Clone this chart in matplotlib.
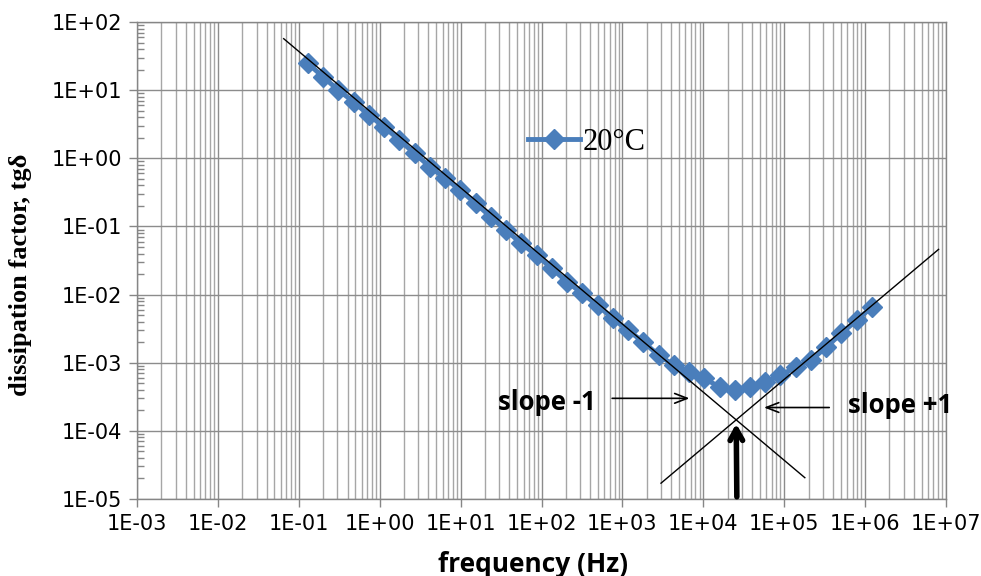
import matplotlib
matplotlib.use("Agg")
import matplotlib.pyplot as plt
from matplotlib.ticker import LogLocator, NullFormatter, FixedLocator

# measured tgδ at 20 °C
freq_hz = [0.129, 0.199, 0.308, 0.475, 0.733, 1.13, 1.75, 2.70, 4.16, 6.42,
           9.91, 15.3, 23.6, 36.4, 56.2, 86.8, 134, 207, 319, 493,
           760, 1170, 1810, 2800, 4320, 6660, 10300, 15900, 24500, 37800,
           58300, 90000, 139000, 215000, 331000, 511000, 789000, 1220000]
tan_delta = [24.8, 15.7, 10.0, 6.76, 4.31, 2.90, 1.85, 1.18, 0.750, 0.510,
             0.341, 0.218, 0.138, 0.0883, 0.0562, 0.0379, 0.0242, 0.0154, 0.0104, 0.00698,
             0.00446, 0.00300, 0.00202, 0.00129, 0.000919, 0.000733, 0.000592, 0.000437, 0.000394, 0.000437,
             0.000517, 0.000656, 0.000859, 0.00109, 0.00169, 0.00271, 0.00421, 0.00659]

# asymptotes: slope -1 and +1 through their crossing point
f_cross, tg_cross = 2.55e4, 1.45e-4
f_low = [0.065, 1.8e5]
f_high = [3.0e3, 8.1e6]
tg_low = [tg_cross * f_cross / f for f in f_low]
tg_high = [tg_cross * f / f_cross for f in f_high]

xticks = [1e-3, 1e-2, 1e-1, 1e0, 1e1, 1e2, 1e3, 1e4, 1e5, 1e6, 1e7]
yticks = [1e-5, 1e-4, 1e-3, 1e-2, 1e-1, 1e0, 1e1, 1e2]


def sci(v):
    m, e = f"{v:.0E}".split("E")
    return f"1E{e[0]}{int(e[1:]):02d}"


fig = plt.figure(figsize=(9.81, 5.76), dpi=100)
ax = fig.add_axes([0.1397, 0.1337, 0.8246, 0.8281])
ax.set_xscale("log")
ax.set_yscale("log")
ax.set_xlim(1e-3, 1e7)
ax.set_ylim(1e-5, 1e2)

ax.xaxis.set_major_locator(FixedLocator(xticks))
ax.yaxis.set_major_locator(FixedLocator(yticks))
ax.xaxis.set_minor_locator(LogLocator(base=10, subs=range(2, 10), numticks=20))
ax.yaxis.set_minor_locator(LogLocator(base=10, subs=range(2, 10), numticks=20))
ax.xaxis.set_minor_formatter(NullFormatter())
ax.yaxis.set_minor_formatter(NullFormatter())
ax.set_xticklabels([sci(v) for v in xticks])
ax.set_yticklabels([sci(v) for v in yticks])

ax.grid(True, which="major", axis="both", color="#8c8c8c", lw=1.0)
ax.grid(True, which="minor", axis="x", color="#a6a6a6", lw=1.0)
ax.set_axisbelow(True)

ax.tick_params(axis="both", which="major", length=6, width=1, color="#868686",
               labelsize=15, pad=5, direction="out")
ax.tick_params(axis="y", which="minor", length=5, width=1, color="#868686",
               direction="in")
ax.tick_params(axis="x", which="minor", length=0)
for lab in ax.get_xticklabels() + ax.get_yticklabels():
    lab.set_family("DejaVu Sans")
for s in ax.spines.values():
    s.set_color("#868686")
    s.set_linewidth(1)

ax.plot(freq_hz, tan_delta, color="#4a7ebb", lw=3.5, marker="D", ms=10.5,
        mec="#4a7ebb", label="20°C", zorder=3)
ax.plot(f_low, tg_low, color="black", lw=1.0, zorder=4)
ax.plot(f_high, tg_high, color="black", lw=1.0, zorder=4)

# arrows pointing at the two asymptotes and their crossing
thin = dict(arrowstyle="->,head_length=0.9,head_width=0.35", color="black", lw=1.2)
ax.annotate("", xy=(7.3e3, 3.0e-4), xytext=(6.9e2, 3.0e-4), arrowprops=thin, zorder=5)
ax.annotate("", xy=(5.2e4, 2.2e-4), xytext=(3.9e5, 2.2e-4), arrowprops=thin, zorder=5)
ax.annotate("", xy=(2.55e4, 1.4e-4), xytext=(2.6e4, 9.8e-6),
            arrowprops=dict(arrowstyle="->,head_length=0.8,head_width=0.45",
                            color="black", lw=4),
            annotation_clip=False, zorder=5)
ax.text(1.15e2, 2.63e-4, "slope -1", family="Open Sans", weight="bold", fontsize=18.5,
        ha="center", va="center")
ax.text(2.7e6, 2.38e-4, "slope +1", family="Open Sans", weight="bold", fontsize=18.5,
        ha="center", va="center", clip_on=False)

ax.set_xlabel("frequency (Hz)", family="Open Sans", weight="bold", fontsize=19)
ax.xaxis.set_label_coords(0.49, -0.108)
ax.set_ylabel("dissipation factor, tgδ", family="Liberation Serif", weight="bold",
              fontsize=19)
ax.yaxis.set_label_coords(-0.13, 0.47)

leg = ax.legend(loc="center left", bbox_to_anchor=(0.483, 0.747), frameon=False,
                prop={"family": "Liberation Serif", "size": 22},
                handlelength=1.7, handletextpad=0.1, borderaxespad=0, borderpad=0)

fig.savefig("out.png", dpi=100)
